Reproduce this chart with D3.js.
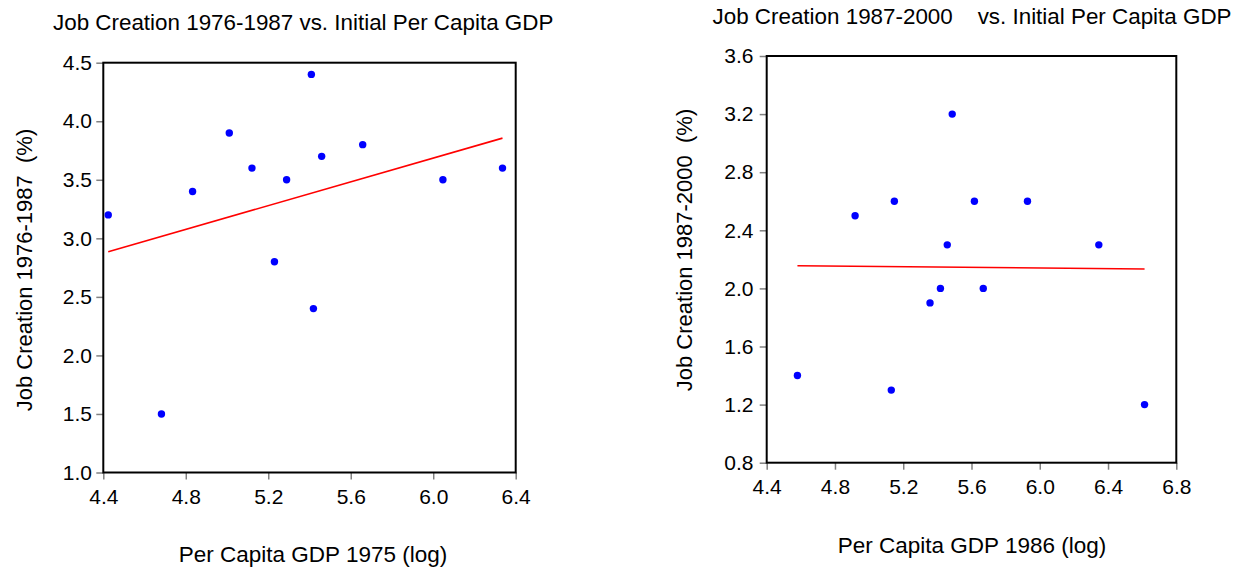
<!DOCTYPE html>
<html>
<head>
<meta charset="utf-8">
<script src="https://cdn.jsdelivr.net/npm/d3@7"></script>
<style>
  html, body { margin: 0; padding: 0; background: #fff; }
  svg { display: block; }
  text { font-family: "Liberation Sans", Arial, sans-serif; fill: #000; white-space: pre; }
</style>
</head>
<body>
<svg id="chart" width="1237" height="567"></svg>
<script>
// Panel 1: job creation 1976-1987 against log per capita GDP in 1975
const gdp1975 = [4.424, 4.682, 4.833, 5.011, 5.121, 5.289, 5.230, 5.409, 5.419, 5.459, 5.658, 6.047, 6.336];
const jobs7687 = [3.2, 1.5, 3.4, 3.9, 3.6, 3.5, 2.8, 4.4, 2.4, 3.7, 3.8, 3.5, 3.6];
const xTicks1 = [4.4, 4.8, 5.2, 5.6, 6.0, 6.4];
const yTicks1 = [1.0, 1.5, 2.0, 2.5, 3.0, 3.5, 4.0, 4.5];

// Panel 2: job creation 1987-2000 against log per capita GDP in 1986
const gdp1986 = [4.580, 4.918, 5.130, 5.148, 5.357, 5.418, 5.458, 5.487, 5.617, 5.669, 5.928, 6.346, 6.614];
const jobs8700 = [1.4, 2.5, 1.3, 2.6, 1.9, 2.0, 2.3, 3.2, 2.6, 2.0, 2.6, 2.3, 1.2];
const xTicks2 = [4.4, 4.8, 5.2, 5.6, 6.0, 6.4, 6.8];
const yTicks2 = [0.8, 1.2, 1.6, 2.0, 2.4, 2.8, 3.2, 3.6];

const svg = d3.select("#chart");

// least-squares fit through a point cloud, returned at the extreme x values
function olsLine(xs, ys) {
  const mx = d3.mean(xs), my = d3.mean(ys);
  let sxy = 0, sxx = 0;
  xs.forEach((x, i) => { sxy += (x - mx) * (ys[i] - my); sxx += (x - mx) * (x - mx); });
  const b = sxy / sxx, a = my - b * mx;
  const [x0, x1] = d3.extent(xs);
  return [[x0, a + b * x0], [x1, a + b * x1]];
}

function panel(cfg) {
  const x = d3.scaleLinear().domain(cfg.xDomain).range([cfg.left, cfg.right]);
  const y = d3.scaleLinear().domain(cfg.yDomain).range([cfg.bottom, cfg.top]);
  const g = svg.append("g");

  const xAxis = d3.axisBottom(x).tickValues(cfg.xTicks).tickFormat(d3.format(".1f"))
    .tickSize(7).tickPadding(cfg.xPad).tickSizeOuter(0);
  const yAxis = d3.axisLeft(y).tickValues(cfg.yTicks).tickFormat(d3.format(".1f"))
    .tickSize(7).tickPadding(cfg.yPad).tickSizeOuter(0);

  const gx = g.append("g").attr("transform", `translate(0,${cfg.bottom})`).call(xAxis);
  const gy = g.append("g").attr("transform", `translate(${cfg.left},0)`).call(yAxis);
  [gx, gy].forEach(a => {
    a.select(".domain").remove();
    a.selectAll(".tick line").attr("stroke", "#808080").attr("stroke-width", 1.5);
    a.selectAll(".tick text").style("font-size", "21px").attr("fill", "#000");
  });

  // plot frame
  g.append("rect")
    .attr("x", cfg.left).attr("y", cfg.top)
    .attr("width", cfg.right - cfg.left).attr("height", cfg.bottom - cfg.top)
    .attr("fill", "none").attr("stroke", "#000").attr("stroke-width", 2);

  // fitted regression line
  const fit = olsLine(cfg.xs, cfg.ys);
  g.append("path")
    .attr("d", d3.line().x(d => x(d[0])).y(d => y(d[1]))(fit))
    .attr("fill", "none").attr("stroke", "#ff0000").attr("stroke-width", 1.6);

  // observations
  g.selectAll("circle.pt").data(cfg.xs.map((v, i) => [v, cfg.ys[i]]))
    .join("circle").attr("class", "pt")
    .attr("cx", d => x(d[0])).attr("cy", d => y(d[1])).attr("r", 3.7)
    .attr("fill", "#0000ff");

  // titles
  g.append("text").attr("x", cfg.titleX).attr("y", cfg.titleY)
    .style("font-size", "22.4px").text(cfg.title);
  g.append("text").attr("x", cfg.xLabelX).attr("y", cfg.xLabelY)
    .attr("text-anchor", "middle").style("font-size", "22.5px").text(cfg.xLabel);
  g.append("text")
    .attr("transform", `translate(${cfg.yLabelX},${cfg.yLabelY}) rotate(-90)`)
    .attr("text-anchor", "middle").style("font-size", "22px")
    .text(cfg.yLabel);
}

panel({
  xs: gdp1975, ys: jobs7687, xTicks: xTicks1, yTicks: yTicks1,
  xDomain: [4.4, 6.4], yDomain: [1.0, 4.5],
  left: 103.3, right: 515.7, top: 62.7, bottom: 472.5,
  xPad: 9.5, yPad: 4.4,
  title: "Job Creation 1976-1987 vs. Initial Per Capita GDP", titleX: 53, titleY: 30,
  xLabel: "Per Capita GDP 1975 (log)", xLabelX: 313, xLabelY: 561.5,
  yLabel: "Job Creation 1976-1987  (%)", yLabelX: 32, yLabelY: 270
});

panel({
  xs: gdp1986, ys: jobs8700, xTicks: xTicks2, yTicks: yTicks2,
  xDomain: [4.4, 6.8], yDomain: [0.8, 3.6],
  left: 766.7, right: 1176.3, top: 56, bottom: 462.7,
  xPad: 9.5, yPad: 6.2,
  title: "Job Creation 1987-2000    vs. Initial Per Capita GDP", titleX: 712.5, titleY: 24,
  xLabel: "Per Capita GDP 1986 (log)", xLabelX: 972, xLabelY: 553,
  yLabel: "Job Creation 1987-2000  (%)", yLabelX: 692, yLabelY: 250
});
</script>
</body>
</html>
